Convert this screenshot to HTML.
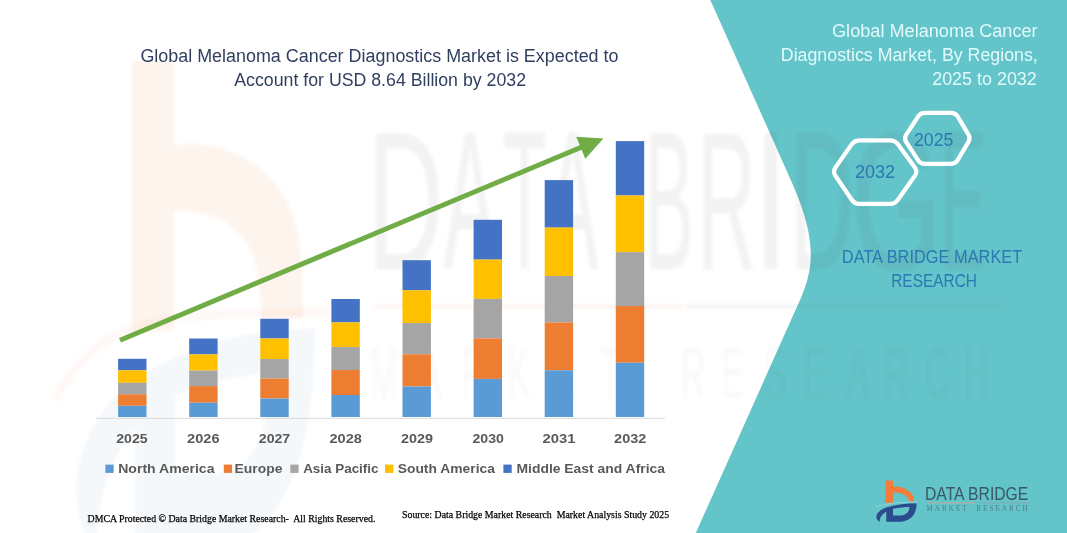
<!DOCTYPE html>
<html><head><meta charset="utf-8"><style>
html,body{margin:0;padding:0;background:#fff;}
body{width:1067px;height:533px;overflow:hidden;}
svg{display:block;}
</style></head><body>
<svg width="1067" height="533" viewBox="0 0 1067 533">
<defs><filter id="bl" x="-5%" y="-5%" width="110%" height="110%"><feGaussianBlur stdDeviation="1.6"/></filter></defs>
<rect x="0" y="0" width="1067" height="533" fill="#ffffff"/>
<path d="M710.3,0 L790.8,180 C824.9,256 808.9,280 791,320 L695.8,533 L1067,533 L1067,0 Z" fill="#63C4CA"/>
<g filter="url(#bl)">
 <path d="M131.5,61 L174,61 L174,145 C225,138 275,165 293,215 C301,240 303,270 303,318 L262,322 C261,290 258,262 248,245 C235,222 205,208 174,212 L174,330 L131.5,333 Z" fill="#F47B3A" opacity="0.085"/>
 <g transform="matrix(5.9 0 0 11.75 39.46 -2.45)" opacity="0.045"><path fill-rule="evenodd" d="M9.6,47 C3.5,43 6,36 17,32.3 C26,29.3 37,28.2 46.6,28.2 C46.6,38 42,46.8 28,46.8 L16.3,46.8 L16.3,36.5 C12.5,38.8 9.8,42 9.6,47 Z M23,33.8 C29,32.6 35,32 39.6,32 C39.2,37.5 35.5,40.6 29.5,40.6 L23,40.6 Z" fill="#2B4C8C"/></g>
 <g opacity="0.065" fill="#505050" font-family="Liberation Sans, sans-serif">
<text transform="matrix(5.964 0 0 11.17 -228.93 0)" x="100" y="24.07" font-size="17.6">D</text><text transform="matrix(4.508 0 0 11.17 -7.33 0)" x="100" y="24.07" font-size="17.6">A</text><text transform="matrix(4.03 0 0 11.17 99.7 0)" x="100" y="24.07" font-size="17.6">T</text><text transform="matrix(4.367 0 0 11.17 109.93 0)" x="100" y="24.07" font-size="17.6">A</text><text transform="matrix(4.21 0 0 11.17 223.19 0)" x="100" y="24.07" font-size="17.6">B</text><text transform="matrix(4.6 0 0 11.17 237.4 0)" x="100" y="24.07" font-size="17.6">R</text><text transform="matrix(7.4 0 0 11.17 12.8 0)" x="100" y="24.07" font-size="17.6">I</text><text transform="matrix(5.0 0 0 11.17 290.0 0)" x="100" y="24.07" font-size="17.6">D</text><text transform="matrix(6.545 0 0 11.17 196.91 0)" x="100" y="24.07" font-size="17.6">G</text><text transform="matrix(3.9 0 0 11.17 550.1 0)" x="100" y="24.07" font-size="17.6">E</text>
 </g>
 <path d="M55,400 C80,350 120,325 175,318 C220,313 270,312 330,312" stroke="#F47B3A" stroke-width="9" fill="none" opacity="0.05"/>
 <rect x="375" y="304.5" width="308" height="3.5" fill="#E8A07A" opacity="0.12"/>
 <rect x="686" y="304.5" width="314" height="3.5" fill="#6D8A96" opacity="0.1"/>
 <g opacity="0.035" fill="#505050" font-family="Liberation Sans, sans-serif">
  <text transform="matrix(3.36 0 0 7.14 0 0)" x="110.12 124.52 137.44 150.95 164.46 178.57 190.00 202.62 214.64 227.26 238.99 251.90 263.04 275.36 287.08" y="55.8" font-size="10">MARKET RESEARCH</text>
 </g>
</g>
<line x1="96" y1="418.3" x2="665" y2="418.3" stroke="#D9D9D9" stroke-width="1"/>
<rect x="118.1" y="358.8" width="28.4" height="11.5" fill="#4472C4"/><rect x="118.1" y="370.3" width="28.4" height="12.5" fill="#FFC000"/><rect x="118.1" y="382.8" width="28.4" height="11.5" fill="#A5A5A5"/><rect x="118.1" y="394.3" width="28.4" height="11.5" fill="#ED7D31"/><rect x="118.1" y="405.8" width="28.4" height="11.2" fill="#5B9BD5"/><rect x="189.2" y="338.5" width="28.4" height="15.9" fill="#4472C4"/><rect x="189.2" y="354.4" width="28.4" height="16.2" fill="#FFC000"/><rect x="189.2" y="370.6" width="28.4" height="15.5" fill="#A5A5A5"/><rect x="189.2" y="386.1" width="28.4" height="16.6" fill="#ED7D31"/><rect x="189.2" y="402.7" width="28.4" height="14.3" fill="#5B9BD5"/><rect x="260.3" y="318.8" width="28.4" height="19.7" fill="#4472C4"/><rect x="260.3" y="338.5" width="28.4" height="20.5" fill="#FFC000"/><rect x="260.3" y="359.0" width="28.4" height="19.5" fill="#A5A5A5"/><rect x="260.3" y="378.5" width="28.4" height="20.0" fill="#ED7D31"/><rect x="260.3" y="398.5" width="28.4" height="18.5" fill="#5B9BD5"/><rect x="331.4" y="299.0" width="28.4" height="23.4" fill="#4472C4"/><rect x="331.4" y="322.4" width="28.4" height="24.6" fill="#FFC000"/><rect x="331.4" y="347.0" width="28.4" height="23.0" fill="#A5A5A5"/><rect x="331.4" y="370.0" width="28.4" height="25.0" fill="#ED7D31"/><rect x="331.4" y="395.0" width="28.4" height="22.0" fill="#5B9BD5"/><rect x="402.5" y="260.2" width="28.4" height="30.1" fill="#4472C4"/><rect x="402.5" y="290.3" width="28.4" height="32.7" fill="#FFC000"/><rect x="402.5" y="323.0" width="28.4" height="31.3" fill="#A5A5A5"/><rect x="402.5" y="354.3" width="28.4" height="32.2" fill="#ED7D31"/><rect x="402.5" y="386.5" width="28.4" height="30.5" fill="#5B9BD5"/><rect x="473.6" y="219.8" width="28.4" height="39.8" fill="#4472C4"/><rect x="473.6" y="259.6" width="28.4" height="39.3" fill="#FFC000"/><rect x="473.6" y="298.9" width="28.4" height="39.5" fill="#A5A5A5"/><rect x="473.6" y="338.4" width="28.4" height="40.5" fill="#ED7D31"/><rect x="473.6" y="378.9" width="28.4" height="38.1" fill="#5B9BD5"/><rect x="544.7" y="180.1" width="28.4" height="47.5" fill="#4472C4"/><rect x="544.7" y="227.6" width="28.4" height="48.4" fill="#FFC000"/><rect x="544.7" y="276.0" width="28.4" height="46.4" fill="#A5A5A5"/><rect x="544.7" y="322.4" width="28.4" height="47.9" fill="#ED7D31"/><rect x="544.7" y="370.3" width="28.4" height="46.7" fill="#5B9BD5"/><rect x="615.8" y="141.1" width="28.4" height="54.4" fill="#4472C4"/><rect x="615.8" y="195.5" width="28.4" height="56.7" fill="#FFC000"/><rect x="615.8" y="252.2" width="28.4" height="53.8" fill="#A5A5A5"/><rect x="615.8" y="306.0" width="28.4" height="56.7" fill="#ED7D31"/><rect x="615.8" y="362.7" width="28.4" height="54.3" fill="#5B9BD5"/>
<line x1="120" y1="340.2" x2="583" y2="146.5" stroke="#70AD47" stroke-width="5"/>
<polygon points="576.2,136.8 603.4,138.4 585.3,158.8" fill="#70AD47"/>
<rect x="105.4" y="464.6" width="8.3" height="8.3" fill="#5B9BD5"/><rect x="223.8" y="464.6" width="8.3" height="8.3" fill="#ED7D31"/><rect x="290.3" y="464.6" width="8.3" height="8.3" fill="#A5A5A5"/><rect x="385.0" y="464.6" width="8.3" height="8.3" fill="#FFC000"/><rect x="503.4" y="464.6" width="8.3" height="8.3" fill="#4472C4"/>
<g fill="none" stroke="#FFFFFF" stroke-width="4.2" stroke-linejoin="round">
 <path d="M835.41,175.74 Q832.60,171.60 835.47,167.50 L851.63,144.40 Q854.50,140.30 859.50,140.30 L890.00,140.30 Q895.00,140.30 897.94,144.34 L914.86,167.56 Q917.80,171.60 914.92,175.68 L897.88,199.82 Q895.00,203.90 890.00,203.90 L859.50,203.90 Q854.50,203.90 851.69,199.76 Z"/>
 <path d="M906.10,141.81 Q903.80,138.30 906.10,134.79 L918.20,116.31 Q920.50,112.80 924.70,112.80 L951.30,112.80 Q955.50,112.80 957.64,116.41 L968.46,134.69 Q970.60,138.30 968.46,141.91 L957.64,160.19 Q955.50,163.80 951.30,163.80 L924.70,163.80 Q920.50,163.80 918.20,160.29 Z"/>
</g>
<g transform="translate(870,475)">
 <path d="M15.6,5.4 L22.9,5.4 L22.9,11.7 C31,10.5 40,15 43,21 C43.8,23 44.2,25 44.2,26.4 L39.3,26.8 C38,20.5 32,16.8 22.9,17.5 L22.9,27.8 L15.6,28.3 Z" fill="#F47B3A"/>
 <path fill-rule="evenodd" d="M9.6,47 C3.5,43 6,36 17,32.3 C26,29.3 37,28.2 46.6,28.2 C46.6,38 42,46.8 28,46.8 L16.3,46.8 L16.3,36.5 C12.5,38.8 9.8,42 9.6,47 Z M23,33.8 C29,32.6 35,32 39.6,32 C39.2,37.5 35.5,40.6 29.5,40.6 L23,40.6 Z" fill="#2B4C8C"/>
 <path d="M5.5,32 C15,28.5 30,27.2 47.5,27" stroke="#A9DCDD" stroke-width="0.7" fill="none"/>
 <rect x="57.5" y="27.4" width="47.5" height="0.9" fill="#D9A58A"/>
 <rect x="108.7" y="27.4" width="52.3" height="0.9" fill="#8AA6B4"/>
 <text x="56.3" y="36.3" font-family="Liberation Serif, serif" font-size="7.2" fill="#50808A" textLength="101.5" lengthAdjust="spacing" style="white-space:pre">MARKET  RESEARCH</text>
</g>
<text id="t1" x="140.40" y="61.50" font-family="Liberation Sans, sans-serif" font-weight="400" font-size="18" fill="#303E60" textLength="478.10" lengthAdjust="spacingAndGlyphs" style="white-space:pre">Global Melanoma Cancer Diagnostics Market is Expected to</text>
<text id="t2" x="234.30" y="85.50" font-family="Liberation Sans, sans-serif" font-weight="400" font-size="18" fill="#303E60" textLength="291.70" lengthAdjust="spacingAndGlyphs" style="white-space:pre">Account for USD 8.64 Billion by 2032</text>
<text id="r1" x="832.00" y="37.00" font-family="Liberation Sans, sans-serif" font-weight="400" font-size="17.6" fill="#E2FAFB" textLength="205.60" lengthAdjust="spacingAndGlyphs" style="white-space:pre">Global Melanoma Cancer</text>
<text id="r2" x="780.80" y="61.20" font-family="Liberation Sans, sans-serif" font-weight="400" font-size="17.6" fill="#E2FAFB" textLength="257.00" lengthAdjust="spacingAndGlyphs" style="white-space:pre">Diagnostics Market, By Regions,</text>
<text id="r3" x="932.20" y="85.00" font-family="Liberation Sans, sans-serif" font-weight="400" font-size="17.6" fill="#E2FAFB" textLength="104.60" lengthAdjust="spacingAndGlyphs" style="white-space:pre">2025 to 2032</text>
<text id="h1" x="855.00" y="177.70" font-family="Liberation Sans, sans-serif" font-weight="400" font-size="17.5" fill="#2A78B2" textLength="40.10" lengthAdjust="spacingAndGlyphs" style="white-space:pre">2032</text>
<text id="h2" x="914.00" y="146.20" font-family="Liberation Sans, sans-serif" font-weight="400" font-size="17.5" fill="#2A78B2" textLength="39.30" lengthAdjust="spacingAndGlyphs" style="white-space:pre">2025</text>
<text id="d1" x="841.80" y="262.60" font-family="Liberation Sans, sans-serif" font-weight="400" font-size="18.6" fill="#2C78B2" textLength="180.50" lengthAdjust="spacingAndGlyphs" style="white-space:pre">DATA BRIDGE MARKET</text>
<text id="d2" x="891.20" y="286.60" font-family="Liberation Sans, sans-serif" font-weight="400" font-size="18.6" fill="#2C78B2" textLength="85.80" lengthAdjust="spacingAndGlyphs" style="white-space:pre">RESEARCH</text>
<text id="y0" x="116.20" y="443.20" font-family="Liberation Sans, sans-serif" font-weight="700" font-size="13.6" fill="#595959" textLength="31.40" lengthAdjust="spacingAndGlyphs" style="white-space:pre">2025</text>
<text id="y1" x="187.10" y="443.20" font-family="Liberation Sans, sans-serif" font-weight="700" font-size="13.6" fill="#595959" textLength="32.40" lengthAdjust="spacingAndGlyphs" style="white-space:pre">2026</text>
<text id="y2" x="258.80" y="443.20" font-family="Liberation Sans, sans-serif" font-weight="700" font-size="13.6" fill="#595959" textLength="31.40" lengthAdjust="spacingAndGlyphs" style="white-space:pre">2027</text>
<text id="y3" x="329.50" y="443.20" font-family="Liberation Sans, sans-serif" font-weight="700" font-size="13.6" fill="#595959" textLength="32.40" lengthAdjust="spacingAndGlyphs" style="white-space:pre">2028</text>
<text id="y4" x="401.00" y="443.20" font-family="Liberation Sans, sans-serif" font-weight="700" font-size="13.6" fill="#595959" textLength="32.00" lengthAdjust="spacingAndGlyphs" style="white-space:pre">2029</text>
<text id="y5" x="472.50" y="443.20" font-family="Liberation Sans, sans-serif" font-weight="700" font-size="13.6" fill="#595959" textLength="31.40" lengthAdjust="spacingAndGlyphs" style="white-space:pre">2030</text>
<text id="y6" x="542.40" y="443.20" font-family="Liberation Sans, sans-serif" font-weight="700" font-size="13.6" fill="#595959" textLength="33.00" lengthAdjust="spacingAndGlyphs" style="white-space:pre">2031</text>
<text id="y7" x="614.10" y="443.20" font-family="Liberation Sans, sans-serif" font-weight="700" font-size="13.6" fill="#595959" textLength="32.20" lengthAdjust="spacingAndGlyphs" style="white-space:pre">2032</text>
<text id="l0" x="118.20" y="473.10" font-family="Liberation Sans, sans-serif" font-weight="700" font-size="13.6" fill="#595959" textLength="96.30" lengthAdjust="spacingAndGlyphs" style="white-space:pre">North America</text>
<text id="l1" x="234.60" y="473.10" font-family="Liberation Sans, sans-serif" font-weight="700" font-size="13.6" fill="#595959" textLength="47.90" lengthAdjust="spacingAndGlyphs" style="white-space:pre">Europe</text>
<text id="l2" x="303.20" y="473.10" font-family="Liberation Sans, sans-serif" font-weight="700" font-size="13.6" fill="#595959" textLength="75.30" lengthAdjust="spacingAndGlyphs" style="white-space:pre">Asia Pacific</text>
<text id="l3" x="397.70" y="473.10" font-family="Liberation Sans, sans-serif" font-weight="700" font-size="13.6" fill="#595959" textLength="97.20" lengthAdjust="spacingAndGlyphs" style="white-space:pre">South America</text>
<text id="l4" x="516.50" y="473.10" font-family="Liberation Sans, sans-serif" font-weight="700" font-size="13.6" fill="#595959" textLength="148.50" lengthAdjust="spacingAndGlyphs" style="white-space:pre">Middle East and Africa</text>
<text id="f1" x="87.60" y="522.00" font-family="Liberation Serif, serif" font-weight="400" font-size="10.6" fill="#000" textLength="287.80" lengthAdjust="spacingAndGlyphs" stroke="#000" stroke-width="0.25" style="white-space:pre">DMCA Protected © Data Bridge Market Research-  All Rights Reserved.</text>
<text id="f2" x="402.00" y="518.40" font-family="Liberation Serif, serif" font-weight="400" font-size="10.6" fill="#000" textLength="267.10" lengthAdjust="spacingAndGlyphs" stroke="#000" stroke-width="0.25" style="white-space:pre">Source: Data Bridge Market Research  Market Analysis Study 2025</text>
<text id="g1" x="925.00" y="499.90" font-family="Liberation Sans, sans-serif" font-weight="400" font-size="17.6" fill="#3B5866" textLength="103.30" lengthAdjust="spacingAndGlyphs" style="white-space:pre">DATA BRIDGE</text>
</svg>
</body></html>
